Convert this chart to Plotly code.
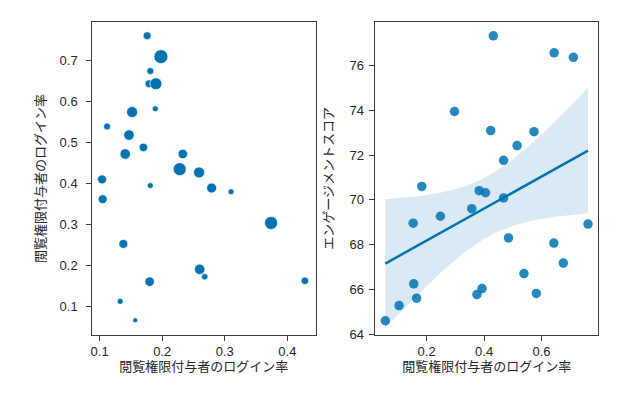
import numpy as np
import plotly.graph_objects as go

# Left panel: login rate vs login rate (sized by user count)
left_x = [0.176, 0.198, 0.181, 0.179, 0.190, 0.189, 0.152, 0.112, 0.147, 0.170,
          0.141, 0.233, 0.228, 0.259, 0.104, 0.181, 0.279, 0.310, 0.105, 0.374,
          0.138, 0.260, 0.268, 0.180, 0.428, 0.133, 0.157]
left_y = [0.760, 0.709, 0.674, 0.643, 0.643, 0.582, 0.574, 0.539, 0.518, 0.488,
          0.472, 0.472, 0.435, 0.427, 0.410, 0.395, 0.389, 0.380, 0.362, 0.304,
          0.253, 0.191, 0.173, 0.161, 0.163, 0.113, 0.067]
left_count = [50, 110, 40, 50, 90, 30, 80, 40, 75, 55,
              75, 65, 100, 80, 60, 30, 70, 30, 60, 100,
              60, 75, 35, 65, 45, 30, 20]

# Right panel: login rate vs engagement score
right_x = [0.432, 0.644, 0.711, 0.297, 0.423, 0.574, 0.515, 0.468, 0.183, 0.383,
           0.405, 0.468, 0.357, 0.248, 0.153, 0.762, 0.485, 0.643, 0.676, 0.539,
           0.155, 0.165, 0.393, 0.375, 0.582, 0.104, 0.056]
right_y = [77.33, 76.57, 76.37, 73.95, 73.10, 73.05, 72.43, 71.77, 70.60, 70.41,
           70.32, 70.09, 69.61, 69.27, 68.96, 68.92, 68.30, 68.07, 67.18, 66.71,
           66.25, 65.61, 66.04, 65.77, 65.82, 65.28, 64.60]

xlabel = "閲覧権限付与者のログイン率"
ylabel_left = "閲覧権限付与者のログイン率"
ylabel_right = "エンゲージメントスコア"

BLUE = "#0173b2"
FONT = "Liberation Sans, Noto Sans CJK JP, sans-serif"

# size mapping
cnt = np.array(left_count, dtype=float)
sizes = 5 + 9 * (cnt - cnt.min()) / (cnt.max() - cnt.min())

# regression with 95% CI
rx = np.array(right_x)
ry = np.array(right_y)
n = len(rx)
b1, b0 = np.polyfit(rx, ry, 1)
grid = np.linspace(rx.min(), rx.max(), 100)
pred = b0 + b1 * grid
resid = ry - (b0 + b1 * rx)
s = np.sqrt(np.sum(resid ** 2) / (n - 2))
sxx = np.sum((rx - rx.mean()) ** 2)
se = s * np.sqrt(1 / n + (grid - rx.mean()) ** 2 / sxx)
tval = 2.06
upper = pred + tval * se
lower = pred - tval * se

fig = go.Figure()
fig.add_trace(go.Scatter(
    x=left_x, y=left_y, mode="markers", xaxis="x", yaxis="y",
    marker=dict(size=sizes, color=BLUE, opacity=1, line=dict(color="white", width=0.7)),
    showlegend=False,
))
fig.add_trace(go.Scatter(
    x=np.concatenate([grid, grid[::-1]]), y=np.concatenate([upper, lower[::-1]]),
    fill="toself", fillcolor="rgba(1,115,178,0.15)", line=dict(width=0),
    mode="lines", xaxis="x2", yaxis="y2", showlegend=False, hoverinfo="skip",
))
fig.add_trace(go.Scatter(
    x=right_x, y=right_y, mode="markers", xaxis="x2", yaxis="y2",
    marker=dict(size=9.5, color=BLUE, opacity=0.85), showlegend=False,
))
fig.add_trace(go.Scatter(
    x=grid, y=pred, mode="lines", xaxis="x2", yaxis="y2",
    line=dict(color=BLUE, width=2.5), showlegend=False,
))

axis_common = dict(
    showgrid=False, zeroline=False, showline=True, mirror=True,
    linecolor="#3c3c3c", linewidth=1.25, ticks="outside", ticklen=4.5,
    tickwidth=1, tickcolor="#3c3c3c",
    tickfont=dict(size=13, color="#262626", family=FONT),
)
ydom = [(394 - 333) / 394, (394 - 14) / 394]
fig.update_layout(
    width=622, height=394, margin=dict(l=0, r=0, t=0, b=0),
    plot_bgcolor="white", paper_bgcolor="white",
    font=dict(family=FONT, size=13, color="#262626"),
    xaxis=dict(domain=[83 / 622, 307 / 622], range=[0.0877, 0.445],
               tickvals=[0.1, 0.2, 0.3, 0.4], ticktext=["0.1", "0.2", "0.3", "0.4"],
               ticklabelstandoff=0,
               title=dict(text=xlabel, font=dict(size=13), standoff=2), anchor="y", **axis_common),
    yaxis=dict(domain=ydom, range=[0.0309, 0.794],
               tickvals=[0.1, 0.2, 0.3, 0.4, 0.5, 0.6, 0.7],
               ticktext=["0.1", "0.2", "0.3", "0.4", "0.5", "0.6", "0.7"],
               ticklabelstandoff=6,
               title=dict(text=ylabel_left, font=dict(size=13), standoff=11), anchor="x", **axis_common),
    xaxis2=dict(domain=[366.7 / 622, 590.3 / 622], range=[0.0205, 0.798],
                tickvals=[0.2, 0.4, 0.6], ticktext=["0.2", "0.4", "0.6"],
                ticklabelstandoff=0,
                title=dict(text=xlabel, font=dict(size=13), standoff=2), anchor="y2", **axis_common),
    yaxis2=dict(domain=ydom, range=[63.96, 77.96],
                tickvals=[64, 66, 68, 70, 72, 74, 76],
                ticktext=["64", "66", "68", "70", "72", "74", "76"],
                ticklabelstandoff=3,
                title=dict(text=ylabel_right, font=dict(size=13), standoff=12), anchor="x2", **axis_common),
)

fig.write_html("out.html")
